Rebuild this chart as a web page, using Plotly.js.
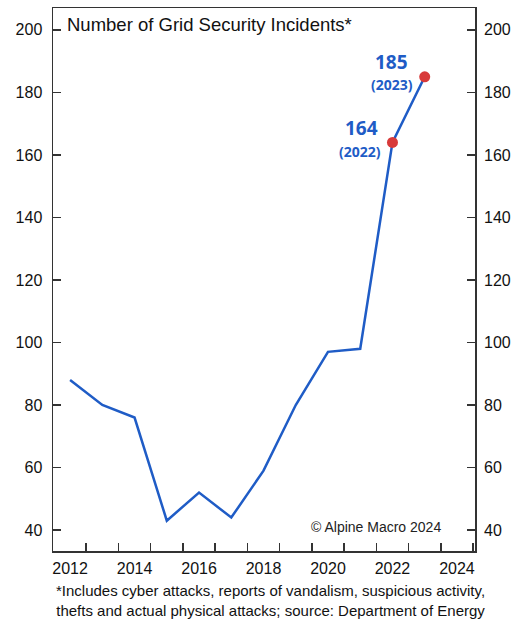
<!DOCTYPE html>
<html><head><meta charset="utf-8">
<script src="https://cdn.plot.ly/plotly-3.0.1.min.js"></script>
<style>html,body{margin:0;padding:0;background:#fff;}#chart{width:514px;height:619px;}</style>
</head><body><div id="chart"></div>
<script>
const years = [2012,2013,2014,2015,2016,2017,2018,2019,2020,2021,2022,2023];
const incidents = [88,80,76,43,52,44,59,80,97,98,164,185];
const highlightYears = [2022,2023];
const highlightValues = [164,185];
const yTicks = [40,60,80,100,120,140,160,180,200];
const xLabelTicks = [2012,2014,2016,2018,2020,2022,2024];
const xMinorTicks = [2011.5,2012.5,2013.5,2014.5,2015.5,2016.5,2017.5,2018.5,2019.5,2020.5,2021.5,2022.5,2023.5,2024.5];
const chartTitle = "Number of Grid Security Incidents*";
const footnote = "*Includes cyber attacks, reports of vandalism, suspicious activity,<br>thefts and actual physical attacks; source: Department of Energy";
const credit = "© Alpine Macro 2024";

const xRange = [2011.47, 2024.56];
const yRange = [33.3, 207];
const blue = '#1f5cc6';
const font = 'Liberation Sans, Arial, sans-serif';

const traces = [
  {x: years, y: incidents, type:'scatter', mode:'lines', line:{color:blue, width:2.5}, hoverinfo:'skip'},
  {x: highlightYears, y: highlightValues, type:'scatter', mode:'markers', marker:{color:'#d83a3a', size:11}, hoverinfo:'skip'},
  {x: [years[0]], y:[incidents[0]], xaxis:'x2', yaxis:'y2', type:'scatter', mode:'markers', marker:{opacity:0}, hoverinfo:'skip'}
];

const valueOffsets = [[-31,-14],[-33,-15]];
const yearOffsets = [[-32,9],[-33,8]];
const annotations = [];
highlightYears.forEach((yr,i)=>{
  annotations.push({x:yr, y:highlightValues[i], xref:'x', yref:'y', text:'<b>'+highlightValues[i]+'</b>', showarrow:true, arrowcolor:'rgba(0,0,0,0)', ax:valueOffsets[i][0], ay:valueOffsets[i][1], font:{family:'Open Sans, sans-serif', size:19, color:blue}});
  annotations.push({x:yr, y:highlightValues[i], xref:'x', yref:'y', text:'<b>('+yr+')</b>', showarrow:true, arrowcolor:'rgba(0,0,0,0)', ax:yearOffsets[i][0], ay:yearOffsets[i][1], font:{family:'Open Sans, sans-serif', size:14, color:blue}});
});
annotations.push({xref:'paper', yref:'paper', x:0.029, y:0.9705, xanchor:'left', yanchor:'middle', text:chartTitle, showarrow:false, font:{family:font, size:18.5, color:'#111'}});
annotations.push({xref:'paper', yref:'paper', x:0.925, y:0.045, xanchor:'right', yanchor:'middle', text:credit, showarrow:false, font:{family:font, size:14, color:'#222'}});
annotations.push({xref:'paper', yref:'paper', x:0.515, y:-0.054, xanchor:'center', yanchor:'top', text:footnote, showarrow:false, align:'center', font:{family:font, size:15, color:'#111'}});

const layout = {
  width:514, height:619,
  margin:{l:53, r:39, t:8, b:68},
  paper_bgcolor:'#fff', plot_bgcolor:'#fff',
  showlegend:false,
  xaxis:{range:xRange, tickmode:'array', tickvals:xMinorTicks, showticklabels:false, ticks:'inside', ticklen:8, tickwidth:1.5, tickcolor:'#333', showgrid:false, zeroline:false, showline:true, mirror:true, linecolor:'#333', linewidth:1.5},
  xaxis2:{range:xRange, overlaying:'x', side:'bottom', anchor:'y', tickmode:'array', tickvals:xLabelTicks, ticks:'', ticklabelstandoff:6, showgrid:false, zeroline:false, showline:false, tickfont:{family:font, size:16, color:'#111'}},
  yaxis:{range:yRange, tickmode:'array', tickvals:yTicks, ticks:'inside', ticklen:8, tickwidth:1.5, tickcolor:'#333', ticklabelstandoff:6, showgrid:false, zeroline:false, showline:true, mirror:true, linecolor:'#333', linewidth:1.5, tickfont:{family:font, size:16, color:'#111'}},
  yaxis2:{range:yRange, overlaying:'y', side:'right', anchor:'x', tickmode:'array', tickvals:yTicks, ticks:'inside', ticklen:8, tickwidth:1.5, tickcolor:'#333', ticklabelstandoff:8, showgrid:false, zeroline:false, showline:false, tickfont:{family:font, size:16, color:'#111'}},
  annotations: annotations
};
Plotly.newPlot('chart', traces, layout, {displayModeBar:false, staticPlot:true});
</script></body></html>
